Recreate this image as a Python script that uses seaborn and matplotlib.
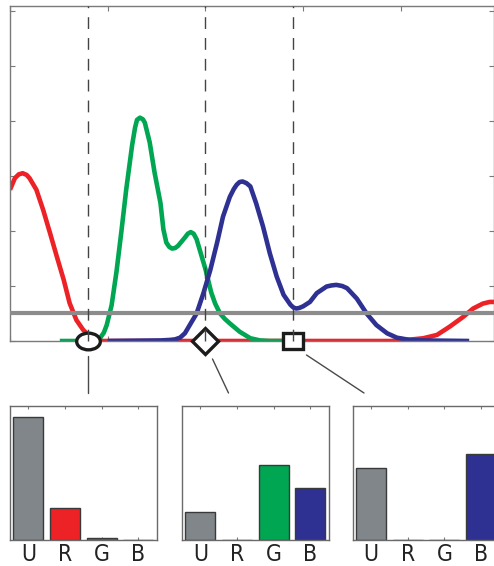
import matplotlib
matplotlib.use("Agg")
import matplotlib.pyplot as plt
import seaborn as sns
from matplotlib.markers import MarkerStyle
from matplotlib.transforms import Affine2D
from matplotlib.lines import Line2D
from matplotlib import font_manager

# ---- spectral sensitivity curves (wavelength in nm, relative response) ----
red_nm = [300, 305, 309, 313, 317, 320, 327, 334, 341, 348, 355, 361, 368, 375, 382, 389, 395,
          690, 702, 712, 723, 737, 750, 764, 774, 784, 791, 796]
red_val = [2.75, 2.96, 3.03, 3.05, 3.02, 2.96, 2.75, 2.38, 1.96, 1.53, 1.11, 0.69, 0.38, 0.20, 0.08, 0.02, 0.0,
           0.0, 0.01, 0.03, 0.05, 0.11, 0.26, 0.44, 0.59, 0.68, 0.71, 0.71]

green_nm = [351, 387, 392, 396, 399, 404, 409, 414, 419, 425, 428, 430, 433, 436, 438, 443, 448, 454, 457,
            460, 463, 466, 469, 472, 479, 482, 485, 488, 491, 496, 500, 506, 510, 515, 520, 525, 535, 546, 556, 566, 590]
green_val = [0.0, 0.0, 0.05, 0.15, 0.29, 0.65, 1.26, 1.99, 2.76, 3.56, 3.88, 4.02, 4.06, 4.03, 3.97, 3.61, 3.06, 2.51, 2.03,
             1.79, 1.71, 1.68, 1.69, 1.73, 1.88, 1.95, 1.98, 1.95, 1.85, 1.55, 1.31, 0.88, 0.68, 0.50, 0.40, 0.32, 0.17, 0.05, 0.01, 0.0, 0.0]

blue_nm = [400, 454, 464, 469, 474, 479, 484, 491, 498, 505, 512, 518, 525, 529, 532, 535, 538, 542, 546, 552, 559, 566,
           573, 580, 587, 590, 593, 596, 600, 607, 614, 624, 629, 634, 640, 645, 655, 665, 675, 686, 696, 709, 723, 770]
blue_val = [0.0, 0.01, 0.02, 0.03, 0.06, 0.14, 0.29, 0.50, 0.87, 1.29, 1.79, 2.26, 2.62, 2.76, 2.84, 2.89, 2.90, 2.87, 2.81, 2.50, 2.08, 1.59,
            1.17, 0.84, 0.66, 0.61, 0.59, 0.60, 0.63, 0.71, 0.87, 0.99, 1.01, 1.02, 1.00, 0.96, 0.77, 0.50, 0.29, 0.14, 0.06, 0.02, 0.01, 0.0]

threshold = 0.5

# sampled wavelengths and their markers
probe_nm = [380, 500, 590]
probe_markers = ["o", "D", "s"]

# channel responses at each probe wavelength
channels = ["U", "R", "G", "B"]
resp_380 = [0.915, 0.24, 0.017, 0.0]
resp_500 = [0.206, 0.0, 0.558, 0.39]
resp_590 = [0.538, 0.0, 0.0, 0.638]

RED = "#ec2227"
GREEN = "#00a651"
BLUE = "#2e3192"
GREY = "#80868a"
channel_colors = [GREY, RED, GREEN, BLUE]
FRAME = "#7a7a7a"

sns.set_style("white")
names = {f.name for f in font_manager.fontManager.ttflist}
label_family = ["Liberation Sans Narrow"] if "Liberation Sans Narrow" in names else ["DejaVu Sans"]
plt.rcParams["font.family"] = label_family + ["DejaVu Sans"]

W, H = 494, 566
fig = plt.figure(figsize=(W / 100, H / 100), dpi=100)


def fx(px):
    return px / W


def fy(py):
    return 1 - py / H


# ---- main spectrum panel ----
ax = fig.add_axes([fx(10), fy(341), (494 - 10) / W, (341 - 6) / H])
lw = 3.3
sns.lineplot(x=red_nm, y=red_val, color=RED, lw=lw, ax=ax, zorder=2, solid_capstyle="butt")
sns.lineplot(x=green_nm, y=green_val, color=GREEN, lw=lw, ax=ax, zorder=2.1, solid_capstyle="butt")
sns.lineplot(x=blue_nm, y=blue_val, color=BLUE, lw=lw, ax=ax, zorder=2.2, solid_capstyle="butt")
ax.axhline(threshold, color="#8c8c8c", lw=3.0, zorder=3)

ax.set_xlim(300, 795.4)
ax.set_ylim(0, 6.09)
ax.set_xticks([300, 400, 500, 600, 700])
ax.set_yticks(range(7))
ax.tick_params(direction="in", length=3.5, width=0.8, color=FRAME,
               top=True, right=True, bottom=True, left=True,
               labelleft=False, labelbottom=False)
for s in ax.spines.values():
    s.set_color(FRAME)
    s.set_linewidth(1.0)
ax.set_xlabel("")
ax.set_ylabel("")

marker_scale = {"o": 1.42, "D": 1.0, "s": 1.33}
marker_size = {"o": 12.0, "D": 13.0, "s": 11.3}
for nm, m in zip(probe_nm, probe_markers):
    ax.plot([nm, nm], [0, 6.09], ls=(0, (8.5, 6.5)), lw=1.0, color="#444444", zorder=6, clip_on=False)
    ms = MarkerStyle(m, transform=Affine2D().scale(marker_scale[m], 1.0))
    ax.plot([nm], [0], marker=ms, ms=marker_size[m], mfc="white", mec="#1c1c1c",
            mew=2.4, ls="none", clip_on=False, zorder=5)

# ---- leader lines from markers to the response panels ----
leaders = [((88, 356), (88, 393)), ((212.5, 359), (228.5, 393)), ((306.5, 355), (364, 393))]
for (x0, y0), (x1, y1) in leaders:
    fig.add_artist(Line2D([fx(x0), fx(x1)], [fy(y0), fy(y1)], transform=fig.transFigure,
                          color="#4a4a4a", lw=1.0))

# ---- channel response panels ----
panel_left = [10, 182, 352.7]
for left, vals in zip(panel_left, [resp_380, resp_500, resp_590]):
    bax = fig.add_axes([fx(left), fy(540), 146.7 / W, 134.3 / H])
    sns.barplot(x=channels, y=vals, hue=channels, palette=channel_colors, legend=False,
                width=0.82, saturation=1, edgecolor="#3a3a3a", linewidth=1.0, ax=bax)
    bax.set_xlim(-0.5, 3.5)
    bax.set_ylim(0, 1)
    bax.set_yticks([])
    bax.set_xlabel("")
    bax.set_ylabel("")
    bax.tick_params(axis="x", direction="in", length=2.5, width=0.8, color=FRAME,
                    top=True, bottom=True, labelsize=16.5, pad=2.0)
    for s in bax.spines.values():
        s.set_color("#6a6a6a")
        s.set_linewidth(1.0)
    for t in bax.get_xticklabels():
        t.set_color("#222222")
        t.set_fontstretch("condensed")

fig.savefig("out.png", dpi=100)
